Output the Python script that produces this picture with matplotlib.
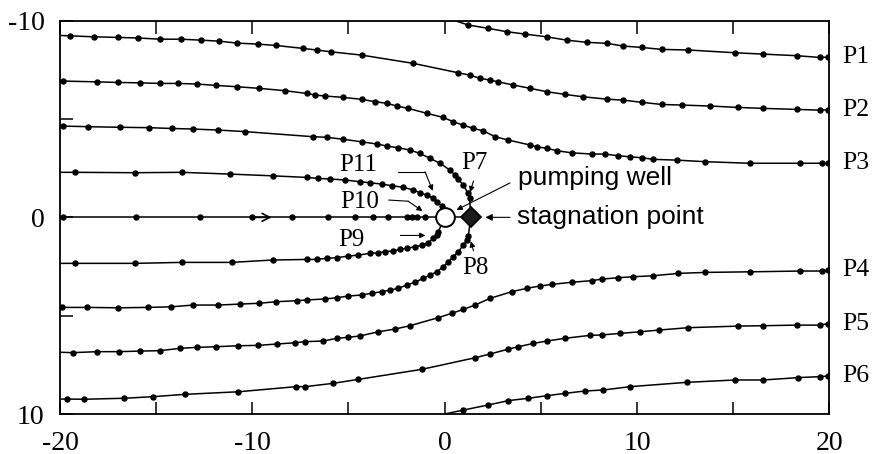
import matplotlib
matplotlib.use("Agg")
import matplotlib.pyplot as plt

# ---------------- data ----------------
p1_x = [0.55, 1.23, 2.27, 3.23, 4.18, 5.31, 6.35, 7.39, 8.43, 9.29, 10.25, 11.29, 12.67, 15.10, 16.57, 18.31, 19.52, 19.95]
p1_y = [-10.0, -9.78, -9.61, -9.44, -9.32, -9.18, -9.01, -8.90, -8.85, -8.71, -8.64, -8.54, -8.51, -8.37, -8.30, -8.22, -8.13, -8.15]

p2_x = [-20.0, -19.48, -18.22, -17.0, -15.93, -14.80, -13.71, -12.67, -11.73, -10.78, -9.72, -8.77, -7.35, -6.65, -5.93,
        -4.31, -1.63, 0.71, 1.32, 1.84, 2.36, 2.79, 3.57, 4.44, 5.31, 6.26, 7.21, 8.43, 9.29, 10.25, 11.29, 12.33, 13.80,
        15.27, 16.57, 18.31, 19.52, 19.95]
p2_y = [-9.25, -9.23, -9.18, -9.15, -9.12, -9.06, -9.06, -9.01, -8.96, -8.86, -8.81, -8.74, -8.59, -8.51, -8.42,
        -8.25, -7.83, -7.35, -7.23, -7.07, -6.98, -6.89, -6.73, -6.56, -6.39, -6.25, -6.13, -6.01, -5.96, -5.85, -5.74,
        -5.71, -5.66, -5.59, -5.54, -5.49, -5.45, -5.47]

p3_x = [-20.0, -19.83, -18.09, -16.97, -15.84, -14.80, -13.88, -12.89, -11.90, -10.78, -9.64, -8.30, -7.17, -6.74, -6.22,
        -5.27, -4.31, -3.62, -3.01, -2.49, -1.89, -0.93, -0.07, 0.45, 0.97, 1.49, 2.01, 2.62, 3.31, 4.44, 4.79, 5.31,
        5.83, 6.61, 7.65, 8.34, 9.03, 9.64, 10.25, 10.85, 12.07, 13.54, 15.88, 18.48, 19.61, 19.95]
p3_y = [-6.93, -6.93, -6.89, -6.86, -6.84, -6.81, -6.81, -6.78, -6.71, -6.64, -6.56, -6.44, -6.30, -6.22, -6.17,
        -6.10, -6.00, -5.88, -5.80, -5.66, -5.54, -5.29, -5.08, -4.86, -4.69, -4.52, -4.40, -4.10, -3.93, -3.68, -3.59,
        -3.51, -3.39, -3.28, -3.22, -3.22, -3.13, -3.08, -3.03, -2.95, -2.91, -2.83, -2.75, -2.75, -2.75, -2.75]

p4_x = [-20.0, -19.34, -18.06, -16.93, -15.84, -14.80, -13.76, -12.86, -11.90, -10.76, -9.69, -8.73, -7.78, -7.26,
        -6.31, -5.61, -5.01, -4.40, -3.45, -2.58, -1.80, -0.33, 0.37, 0.97, 1.58, 2.36, 3.49, 4.27, 4.96, 5.57, 6.61,
        7.65, 8.17, 9.03, 9.81, 10.85, 12.15, 13.54, 15.88, 18.48, 19.61, 19.95]
p4_y = [6.86, 6.88, 6.83, 6.83, 6.80, 6.78, 6.66, 6.61, 6.58, 6.53, 6.51, 6.44, 6.38, 6.32, 6.29, 6.15, 6.10, 6.03,
        5.82, 5.68, 5.51, 5.10, 4.88, 4.68, 4.46, 4.12, 3.78, 3.61, 3.49, 3.41, 3.30, 3.22, 3.14, 3.07, 3.02, 2.97, 2.85,
        2.80, 2.77, 2.73, 2.73, 2.68]

p5_x = [-20.0, -19.65, -18.75, -16.67, -15.18, -13.50, -10.73, -7.73, -7.26, -5.79, -4.49, -1.19, 1.58, 2.36, 3.31,
        3.83, 4.61, 5.31, 6.26, 7.56, 8.17, 9.12, 10.16, 11.16, 12.67, 15.27, 16.57, 18.31, 19.52, 19.95]
p5_y = [9.24, 9.24, 9.25, 9.20, 9.12, 9.00, 8.87, 8.61, 8.61, 8.44, 8.24, 7.73, 7.14, 6.95, 6.70, 6.58, 6.41, 6.29,
        6.15, 6.00, 5.98, 5.90, 5.82, 5.73, 5.61, 5.53, 5.51, 5.48, 5.48, 5.40]

p6_x = [0.0, 0.97, 2.27, 3.31, 4.35, 5.31, 6.26, 7.30, 8.25, 9.64, 12.59, 15.10, 16.57, 18.39, 19.52, 19.95]
p6_y = [10.0, 9.80, 9.54, 9.32, 9.20, 9.07, 8.95, 8.83, 8.78, 8.61, 8.39, 8.27, 8.27, 8.15, 8.10, 8.07]

p7_x = [-20.0, -19.83, -18.53, -16.88, -15.37, -14.19, -13.07, -11.80, -10.38, -6.83, -6.13, -5.27, -4.31, -3.53,
        -2.98, -2.41, -1.80, -1.28, -0.76, -0.24, 0.28, 0.54, 0.71, 0.97, 1.20, 1.30, 1.36]
p7_y = [-4.64, -4.64, -4.61, -4.58, -4.56, -4.52, -4.49, -4.44, -4.36, -4.10, -4.07, -3.97, -3.84, -3.73, -3.62,
        -3.54, -3.42, -3.25, -3.00, -2.75, -2.40, -2.15, -1.93, -1.64, -1.25, -0.97, 0.0]

p8_x = [-20.0, -19.91, -18.58, -16.97, -15.44, -14.23, -13.07, -11.77, -10.64, -9.64, -8.77, -7.69, -7.17, -6.22,
        -5.61, -5.01, -4.31, -3.79, -3.27, -2.84, -2.41, -1.97, -1.54, -1.11, -0.76, -0.41, -0.07, 0.19, 0.45, 0.71,
        0.97, 1.15, 1.23, 1.36]
p8_y = [4.58, 4.58, 4.58, 4.60, 4.58, 4.55, 4.46, 4.46, 4.41, 4.37, 4.29, 4.24, 4.20, 4.15, 4.09, 4.00, 3.95, 3.86,
        3.78, 3.70, 3.61, 3.44, 3.30, 3.10, 2.93, 2.77, 2.51, 2.26, 2.00, 1.75, 1.41, 1.15, 0.95, 0.0]

p9_x = [-20.0, -19.22, -16.10, -13.67, -11.07, -8.94, -7.17, -6.65, -6.13, -5.61, -5.01, -4.49, -3.88, -3.45, -3.10,
        -2.67, -2.32, -1.97, -1.54, -1.19, -0.85, -0.59, -0.41, -0.33, 0.0]
p9_y = [2.34, 2.34, 2.34, 2.29, 2.29, 2.17, 2.14, 2.14, 2.08, 2.05, 1.97, 1.92, 1.83, 1.80, 1.75, 1.70, 1.63, 1.58,
        1.49, 1.42, 1.29, 1.07, 0.90, 0.73, 0.0]

p10_x = [-20.0, -19.83, -16.05, -12.72, -10.03, -7.95, -6.05, -4.66, -3.71, -2.93, -1.97, -1.71, -1.45, -1.02, 0.0, 1.36]
p10_y = [0.0, 0.0, 0.0, 0.0, 0.0, 0.0, 0.0, 0.0, 0.0, 0.0, 0.0, 0.0, 0.0, 0.0, 0.0, 0.0]

p11_x = [-20.0, -19.22, -16.10, -13.67, -11.16, -8.91, -7.17, -6.57, -5.96, -5.18, -4.40, -3.88, -3.27, -2.75, -2.15,
         -1.63, -1.28, -0.93, -0.59, -0.41, -0.15, 0.0]
p11_y = [-2.29, -2.29, -2.27, -2.29, -2.20, -2.11, -2.03, -1.98, -1.95, -1.90, -1.81, -1.76, -1.69, -1.61, -1.53,
         -1.39, -1.25, -1.13, -0.97, -0.79, -0.57, 0.0]

well_x = [0.0]
well_y = [0.0]
stag_x = [1.38]
stag_y = [0.0]

x_ticks = [-20, -15, -10, -5, 0, 5, 10, 15, 20]
x_tick_labels = ["-20", "", "-10", "", "0", "", "10", "", "20"]
y_ticks = [-10, -5, 0, 5, 10]
y_tick_labels = ["-10", "", "0", "", "10"]

right_labels = ["P1", "P2", "P3", "P4", "P5", "P6"]

# ---------------- figure ----------------
SERIF = ["Liberation Serif", "DejaVu Serif"]
SANS = ["Liberation Sans", "DejaVu Sans"]

fig = plt.figure(figsize=(8.79, 4.54), dpi=100)
ax = fig.add_axes([60 / 879, 40 / 454, 769.3 / 879, 393.3 / 454])

lines = {
    "P1": (p1_x, p1_y, slice(1, None)),
    "P2": (p2_x, p2_y, slice(1, None)),
    "P3": (p3_x, p3_y, slice(1, None)),
    "P4": (p4_x, p4_y, slice(1, None)),
    "P5": (p5_x, p5_y, slice(1, None)),
    "P6": (p6_x, p6_y, slice(1, None)),
    "P7": (p7_x, p7_y, slice(1, -1)),
    "P8": (p8_x, p8_y, slice(1, -1)),
    "P9": (p9_x, p9_y, slice(1, -1)),
    "P10": (p10_x, p10_y, slice(1, -2)),
    "P11": (p11_x, p11_y, slice(1, -1)),
}
for name, (xs, ys, me) in lines.items():
    assert len(xs) == len(ys), name
    ax.plot(xs, ys, color="black", lw=1.1, marker="o", ms=3.6,
            markevery=me, solid_capstyle="butt", clip_on=True, zorder=2)

# flow direction chevron on the centre line
ax.annotate("", xy=((p10_x[4] + p10_x[5]) / 2, p10_y[4]), xytext=(p10_x[4], p10_y[4]),
            arrowprops=dict(arrowstyle="->", lw=1.2, color="black", mutation_scale=14,
                            shrinkA=0, shrinkB=0), zorder=3)

# well and stagnation point
ax.plot(well_x, well_y, marker="o", ms=13.5, mfc="white", mec="black", mew=1.4, ls="none", zorder=5)
ax.plot(stag_x, stag_y, marker="D", ms=10, mfc="#1a1a1a", mec="black", mew=1.2, ls="none", zorder=5)

# right-hand labels at the end of each streamline
for lab in right_labels:
    xs, ys, _ = lines[lab]
    ax.annotate(lab, xy=(20, ys[-1]), xycoords="data", xytext=(9, 0), textcoords="offset points",
                ha="left", va="center", fontsize=18.5, family=SERIF, annotation_clip=False)

aprops = dict(arrowstyle="-|>", lw=0.8, color="black", mutation_scale=8, shrinkA=0, shrinkB=0)

# inner labels
ax.text(-4.5, -2.66, "P11", fontsize=18, family=SERIF, ha="center", va="center")
ax.plot([-2.45, -1.02], [-2.32, -2.32], color="black", lw=0.8)
ax.annotate("", xy=(-0.62, -1.35), xytext=(-1.02, -2.32), arrowprops=aprops)

ax.text(-4.4, -0.8, "P10", fontsize=18, family=SERIF, ha="center", va="center")
ax.plot([-2.9, -1.9], [-0.88, -0.82], color="black", lw=0.8)
ax.annotate("", xy=(-1.15, -0.32), xytext=(-1.9, -0.82), arrowprops=aprops)

ax.text(-4.85, 1.15, "P9", fontsize=18, family=SERIF, ha="center", va="center")
ax.annotate("", xy=(-1.0, 0.92), xytext=(-2.3, 0.92), arrowprops=aprops)

ax.text(1.55, -2.75, "P7", fontsize=18, family=SERIF, ha="center", va="center")
ax.annotate("", xy=(1.32, -1.28), xytext=(1.5, -1.85), arrowprops=aprops)

ax.text(1.6, 2.6, "P8", fontsize=18, family=SERIF, ha="center", va="center")
ax.annotate("", xy=(1.36, 1.22), xytext=(1.5, 1.7), arrowprops=aprops)

ax.text(3.8, -2.0, "pumping well", fontsize=19, family=SANS, ha="left", va="center")
ax.annotate("", xy=(0.62, -0.38), xytext=(3.4, -1.75), arrowprops=aprops)

ax.text(3.75, 0.0, "stagnation point", fontsize=19, family=SANS, ha="left", va="center")
ax.annotate("", xy=(2.12, 0.0), xytext=(3.4, 0.0), arrowprops=dict(aprops, mutation_scale=10))

# axes styling
ax.set_xlim(-20, 20)
ax.set_ylim(10, -10)
ax.set_xticks(x_ticks)
ax.set_xticklabels(x_tick_labels, family=SERIF, fontsize=20)
ax.set_yticks(y_ticks)
ax.set_yticklabels(y_tick_labels, family=SERIF, fontsize=20)
ax.tick_params(axis="x", direction="in", length=9, width=1.1, top=True, bottom=True, pad=12)
ax.tick_params(axis="y", direction="in", length=9, width=1.1, left=True, right=False, pad=11)
for sp in ax.spines.values():
    sp.set_linewidth(1.3)
    sp.set_color("black")

fig.savefig("out.png", dpi=100)
